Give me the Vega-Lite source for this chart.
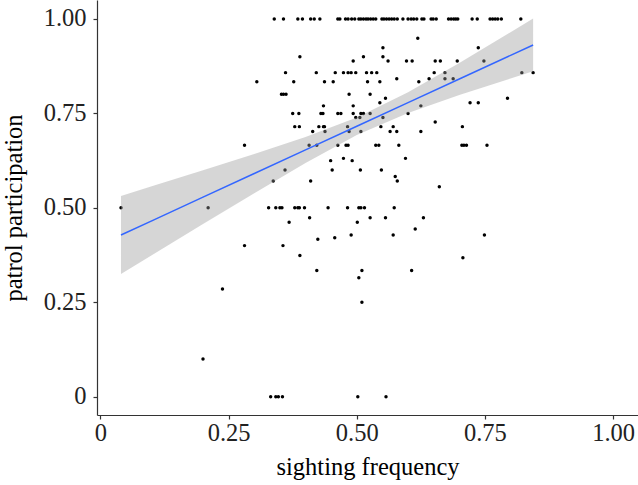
{
  "$schema": "https://vega.github.io/schema/vega-lite/v6.json",
  "width": 541,
  "height": 415,
  "autosize": {"type": "none"},
  "padding": {"left": 97, "top": 0, "right": 0, "bottom": 70},
  "background": "white",
  "config": {"view": {"stroke": null}, "font": "Liberation Serif"},
  "datasets": {
    "points": [
      {"x":0.339,"y":1},{"x":0.357,"y":1},{"x":0.385,"y":1},{"x":0.394,"y":1},{"x":0.410,"y":1},{"x":0.417,"y":1},{"x":0.428,"y":1},{"x":0.463,"y":1},{"x":0.467,"y":1},{"x":0.478,"y":1},{"x":0.483,"y":1},{"x":0.490,"y":1},{"x":0.496,"y":1},{"x":0.504,"y":1},{"x":0.508,"y":1},{"x":0.513,"y":1},{"x":0.518,"y":1},{"x":0.522,"y":1},{"x":0.527,"y":1},{"x":0.532,"y":1},{"x":0.537,"y":1},{"x":0.549,"y":1},{"x":0.553,"y":1},{"x":0.558,"y":1},{"x":0.563,"y":1},{"x":0.568,"y":1},{"x":0.573,"y":1},{"x":0.579,"y":1},{"x":0.590,"y":1},{"x":0.600,"y":1},{"x":0.606,"y":1},{"x":0.611,"y":1},{"x":0.617,"y":1},{"x":0.627,"y":1},{"x":0.631,"y":1},{"x":0.645,"y":1},{"x":0.649,"y":1},{"x":0.655,"y":1},{"x":0.679,"y":1},{"x":0.684,"y":1},{"x":0.689,"y":1},{"x":0.693,"y":1},{"x":0.697,"y":1},{"x":0.725,"y":1},{"x":0.735,"y":1},{"x":0.760,"y":1},{"x":0.765,"y":1},{"x":0.770,"y":1},{"x":0.775,"y":1},{"x":0.782,"y":1},{"x":0.820,"y":1},
      {"x":0.619,"y":0.949},{"x":0.551,"y":0.924},{"x":0.737,"y":0.924},
      {"x":0.389,"y":0.900},{"x":0.513,"y":0.900},{"x":0.551,"y":0.900},
      {"x":0.493,"y":0.889},{"x":0.561,"y":0.889},{"x":0.597,"y":0.889},{"x":0.608,"y":0.889},{"x":0.653,"y":0.889},{"x":0.663,"y":0.889},{"x":0.696,"y":0.889},{"x":0.748,"y":0.889},
      {"x":0.361,"y":0.858},{"x":0.421,"y":0.858},{"x":0.458,"y":0.858},{"x":0.474,"y":0.858},{"x":0.483,"y":0.858},{"x":0.489,"y":0.858},{"x":0.498,"y":0.858},{"x":0.519,"y":0.858},{"x":0.529,"y":0.858},{"x":0.539,"y":0.858},{"x":0.651,"y":0.858},{"x":0.672,"y":0.858},{"x":0.822,"y":0.858},{"x":0.844,"y":0.858},
      {"x":0.305,"y":0.834},{"x":0.377,"y":0.834},{"x":0.437,"y":0.834},{"x":0.454,"y":0.834},{"x":0.521,"y":0.834},{"x":0.545,"y":0.834},{"x":0.621,"y":0.834},
      {"x":0.578,"y":0.842},{"x":0.641,"y":0.842},{"x":0.672,"y":0.842},{"x":0.688,"y":0.842},
      {"x":0.353,"y":0.801},{"x":0.357,"y":0.801},{"x":0.362,"y":0.801},{"x":0.485,"y":0.801},{"x":0.526,"y":0.801},
      {"x":0.556,"y":0.790},{"x":0.794,"y":0.790},
      {"x":0.545,"y":0.778},{"x":0.721,"y":0.778},{"x":0.737,"y":0.778},
      {"x":0.435,"y":0.770},{"x":0.493,"y":0.770},{"x":0.625,"y":0.770},
      {"x":0.375,"y":0.750},{"x":0.387,"y":0.750},{"x":0.430,"y":0.750},{"x":0.434,"y":0.750},{"x":0.463,"y":0.750},{"x":0.469,"y":0.750},{"x":0.493,"y":0.750},{"x":0.508,"y":0.750},{"x":0.513,"y":0.750},{"x":0.526,"y":0.750},{"x":0.600,"y":0.750},
      {"x":0.498,"y":0.739},{"x":0.506,"y":0.739},{"x":0.551,"y":0.739},
      {"x":0.653,"y":0.727},
      {"x":0.379,"y":0.715},{"x":0.388,"y":0.715},{"x":0.426,"y":0.715},{"x":0.435,"y":0.715},{"x":0.437,"y":0.715},{"x":0.482,"y":0.715},{"x":0.547,"y":0.715},{"x":0.571,"y":0.715},{"x":0.706,"y":0.715},
      {"x":0.414,"y":0.702},{"x":0.438,"y":0.702},{"x":0.485,"y":0.702},{"x":0.508,"y":0.702},{"x":0.565,"y":0.702},{"x":0.578,"y":0.702},{"x":0.625,"y":0.702},
      {"x":0.281,"y":0.666},{"x":0.407,"y":0.666},{"x":0.422,"y":0.666},{"x":0.463,"y":0.666},{"x":0.479,"y":0.666},{"x":0.483,"y":0.666},{"x":0.537,"y":0.666},{"x":0.543,"y":0.666},{"x":0.582,"y":0.666},{"x":0.705,"y":0.666},{"x":0.709,"y":0.666},{"x":0.714,"y":0.666},{"x":0.754,"y":0.666},
      {"x":0.474,"y":0.631},{"x":0.595,"y":0.631},{"x":0.449,"y":0.625},{"x":0.491,"y":0.625},
      {"x":0.360,"y":0.600},{"x":0.452,"y":0.600},{"x":0.507,"y":0.600},{"x":0.548,"y":0.600},
      {"x":0.575,"y":0.583},
      {"x":0.337,"y":0.571},{"x":0.410,"y":0.571},{"x":0.579,"y":0.571},
      {"x":0.661,"y":0.556},
      {"x":0.040,"y":0.5},{"x":0.210,"y":0.5},{"x":0.328,"y":0.5},{"x":0.342,"y":0.5},{"x":0.350,"y":0.5},{"x":0.354,"y":0.5},{"x":0.379,"y":0.5},{"x":0.385,"y":0.5},{"x":0.388,"y":0.5},{"x":0.398,"y":0.5},{"x":0.444,"y":0.5},{"x":0.482,"y":0.5},{"x":0.504,"y":0.5},{"x":0.508,"y":0.5},{"x":0.515,"y":0.5},{"x":0.573,"y":0.5},
      {"x":0.408,"y":0.474},{"x":0.526,"y":0.474},{"x":0.556,"y":0.474},{"x":0.630,"y":0.474},
      {"x":0.368,"y":0.462},{"x":0.501,"y":0.462},
      {"x":0.614,"y":0.444},
      {"x":0.749,"y":0.428},{"x":0.489,"y":0.428},{"x":0.571,"y":0.428},
      {"x":0.457,"y":0.421},{"x":0.424,"y":0.417},
      {"x":0.281,"y":0.400},{"x":0.356,"y":0.400},
      {"x":0.389,"y":0.374},{"x":0.707,"y":0.368},
      {"x":0.422,"y":0.334},{"x":0.510,"y":0.334},{"x":0.607,"y":0.334},
      {"x":0.504,"y":0.315},
      {"x":0.238,"y":0.285},
      {"x":0.510,"y":0.250},
      {"x":0.200,"y":0.100},
      {"x":0.332,"y":0},{"x":0.342,"y":0},{"x":0.347,"y":0},{"x":0.355,"y":0},{"x":0.502,"y":0},{"x":0.557,"y":0}
    ],
    "band": [
      {"x":0.040,"fit":0.428,"lo":0.3245,"hi":0.5315},
      {"x":0.100,"fit":0.4656,"lo":0.3743,"hi":0.5569},
      {"x":0.200,"fit":0.5282,"lo":0.4569,"hi":0.5995},
      {"x":0.300,"fit":0.5908,"lo":0.5388,"hi":0.6428},
      {"x":0.400,"fit":0.6534,"lo":0.6190,"hi":0.6878},
      {"x":0.500,"fit":0.7160,"lo":0.6930,"hi":0.7390},
      {"x":0.600,"fit":0.7786,"lo":0.7514,"hi":0.8058},
      {"x":0.700,"fit":0.8412,"lo":0.7986,"hi":0.8838},
      {"x":0.800,"fit":0.9038,"lo":0.8425,"hi":0.9651},
      {"x":0.844,"fit":0.9313,"lo":0.8614,"hi":1.0012}
    ]
  },
  "layer": [
    {
      "data": {"name": "points"},
      "mark": {"type": "circle", "color": "black", "size": 12, "opacity": 1},
      "encoding": {
        "x": {
          "field": "x", "type": "quantitative",
          "scale": {"domain": [-0.0068, 1.0486], "nice": false, "zero": false},
          "axis": {
            "values": [0, 0.25, 0.5, 0.75, 1],
            "labelExpr": "datum.value == 0 ? '0' : format(datum.value, '.2f')",
            "grid": false,
            "domainColor": "#333333", "domainWidth": 1.2,
            "tickColor": "#333333", "tickWidth": 1.2, "tickSize": 4,
            "labelFont": "Liberation Serif", "labelFontSize": 24.5, "labelColor": "#222222",
            "labelPadding": 2, "labelFlush": false, "labelOverlap": false,
            "title": "sighting frequency",
            "titleFont": "Liberation Serif", "titleFontSize": 24.5, "titleFontWeight": "normal", "titleColor": "black",
            "titleX": 270.5, "titleY": 59, "titleBaseline": "alphabetic", "titleAlign": "center"
          }
        },
        "y": {
          "field": "y", "type": "quantitative",
          "scale": {"domain": [-0.0485, 1.0503], "nice": false, "zero": false},
          "axis": {
            "values": [0, 0.25, 0.5, 0.75, 1],
            "labelExpr": "datum.value == 0 ? '0' : format(datum.value, '.2f')",
            "grid": false,
            "domainColor": "#333333", "domainWidth": 1.2,
            "tickColor": "#333333", "tickWidth": 1.2, "tickSize": 4,
            "labelFont": "Liberation Serif", "labelFontSize": 24.5, "labelColor": "#222222",
            "labelPadding": 7, "labelFlush": false, "labelOverlap": false,
            "title": "patrol participation",
            "titleFont": "Liberation Serif", "titleFontSize": 24.5, "titleFontWeight": "normal", "titleColor": "black",
            "titleX": -76, "titleY": 207.5, "titleBaseline": "alphabetic", "titleAlign": "center", "titleAngle": -90
          }
        }
      }
    },
    {
      "data": {"name": "band"},
      "mark": {"type": "area", "color": "#999999", "opacity": 0.4},
      "encoding": {
        "x": {"field": "x", "type": "quantitative"},
        "y": {"field": "lo", "type": "quantitative"},
        "y2": {"field": "hi"}
      }
    },
    {
      "data": {"name": "band"},
      "mark": {"type": "line", "color": "#3366FF", "strokeWidth": 1.5},
      "encoding": {
        "x": {"field": "x", "type": "quantitative"},
        "y": {"field": "fit", "type": "quantitative"}
      }
    }
  ]
}
